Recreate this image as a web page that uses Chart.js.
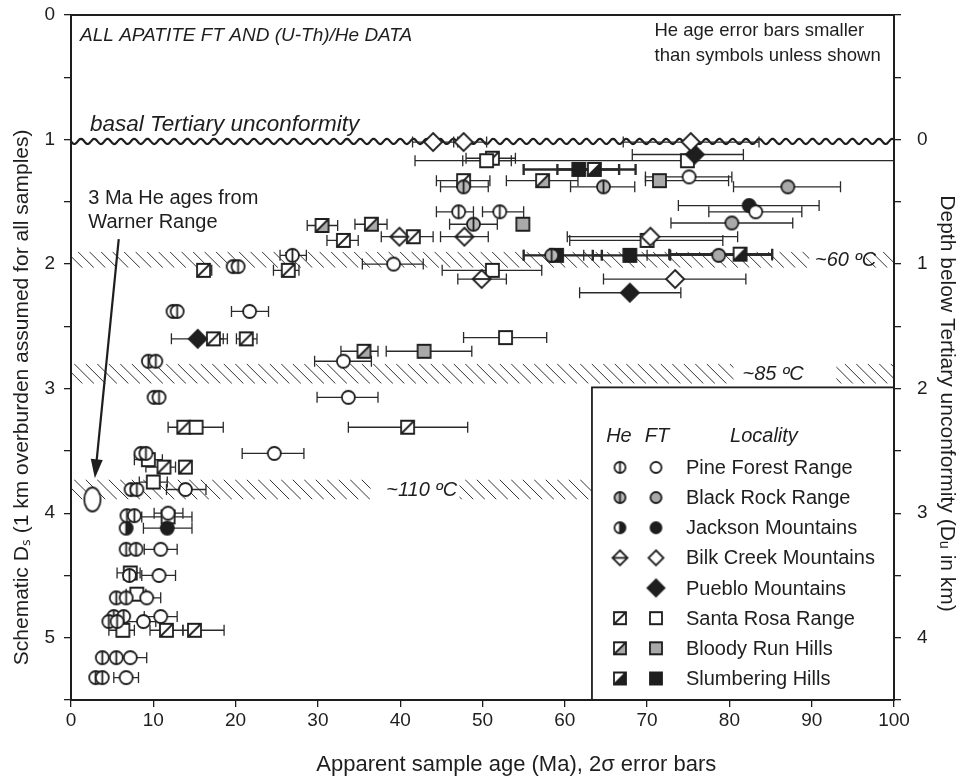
<!DOCTYPE html>
<html>
<head>
<meta charset="utf-8">
<script src="https://cdn.jsdelivr.net/npm/chart.js@4.4.1/dist/chart.umd.min.js"></script>
<style>
  body { margin: 0; background: #fff; }
  canvas { display: block; }
</style>
</head>
<body>
<canvas id="chart" width="966" height="777"></canvas>
<script>
Chart.defaults.font.family = '"Liberation Sans", Arial, Helvetica, sans-serif';
Chart.defaults.color = '#1e1e1e';

// rows are [age (Ma), schematic depth Ds (km), 2σ low, 2σ high]
const pineHe = [
  [47.1, 1.58, 44.4, 48.9], [52.1, 1.58, 50.0, 55.0], [26.9, 1.93, 25.4, 28.6],
  [19.7, 2.02], [20.3, 2.02], [12.4, 2.38], [12.9, 2.38], [9.4, 2.78], [10.3, 2.78],
  [10.1, 3.07], [10.7, 3.07], [8.5, 3.52], [9.1, 3.52], [7.3, 3.81], [8.0, 3.81],
  [6.8, 4.02], [7.7, 4.02], [6.7, 4.29], [7.9, 4.29], [7.1, 4.5], [5.5, 4.68], [6.7, 4.68],
  [5.2, 4.83], [6.4, 4.83], [4.6, 4.87], [5.6, 4.87], [3.8, 5.16], [5.5, 5.16], [3.0, 5.32], [3.8, 5.32]
];
const pineFt = [
  [75.1, 1.30, 69.8, 80.3], [83.2, 1.58, 77.5, 88.8], [39.2, 2.0, 35.4, 42.8],
  [21.7, 2.38, 19.5, 24.0], [33.1, 2.78, 29.6, 36.5], [33.7, 3.07, 29.9, 37.3],
  [24.7, 3.52, 20.8, 28.3], [13.9, 3.81, 11.6, 16.4], [11.8, 4.0, 10.1, 13.6],
  [10.9, 4.29, 8.9, 12.9], [10.7, 4.5, 8.6, 12.7], [9.2, 4.68, 7.1, 10.9],
  [10.9, 4.83, 8.9, 12.9], [8.8, 4.87, 6.9, 10.3], [7.2, 5.16, 5.6, 9.2], [6.7, 5.32, 5.2, 8.2]
];
const blackRockHe = [
  [47.7, 1.38, 44.9, 50.7], [64.7, 1.38, 60.7, 68.5], [48.9, 1.68, 46.0, 51.8], [58.4, 1.93, 55.0, 62.3]
];
const blackRockFt = [
  [87.1, 1.38, 80.5, 93.5], [80.3, 1.67, 72.9, 87.7], [78.7, 1.93, 70.0, 85.2]
];
const jacksonHe = [[6.7, 4.12]];
const jacksonFt = [[82.4, 1.53, 73.8, 90.9], [11.7, 4.12, 8.8, 14.7]];
const bilkHe = [[39.9, 1.78, 37.7, 42.0], [47.8, 1.78, 44.9, 50.7], [49.9, 2.12, 47.0, 52.9]];
const bilkFt = [
  [44.0, 1.02, 41.5, 47.0], [47.7, 1.02, 46.5, 50.5], [75.3, 1.02, 67.1, 83.6],
  [70.4, 1.78, 60.3, 81.0], [73.4, 2.12, 64.7, 82.0]
];
const puebloFt = [[75.8, 1.12, 68.2, 81.7], [67.9, 2.23, 61.8, 74.1], [15.4, 2.60, 12.2, 18.5]];
const santaRosaHe = [
  [51.2, 1.15, 48.0, 54.0], [47.7, 1.33, 44.4, 50.9], [33.1, 1.81, 31.1, 34.9], [41.6, 1.78, 39.5, 44.0],
  [16.1, 2.05, 15.4, 17.1], [26.4, 2.05, 24.6, 27.7], [17.3, 2.60, 16.6, 19.0], [21.3, 2.60, 20.1, 22.6],
  [40.9, 3.31, 33.7, 48.2], [13.7, 3.31, 11.8, 14.8], [11.3, 3.63, 9.1, 12.7], [13.9, 3.63],
  [11.6, 4.94, 9.6, 13.6], [15.0, 4.94, 13.6, 18.6]
];
const santaRosaFt = [
  [74.9, 1.17, 41.8, 110], [50.5, 1.17, 47.6, 53.5], [70.0, 1.81, 60.6, 79.2], [51.2, 2.05, 45.1, 57.2],
  [52.8, 2.59, 47.7, 57.8], [15.2, 3.31, 13.7, 18.5], [9.4, 3.57, 7.7, 11.1], [10.0, 3.75, 8.3, 11.7],
  [11.8, 4.03, 8.6, 14.7], [7.2, 4.48, 5.6, 8.4], [8.0, 4.65, 6.7, 9.1], [6.3, 4.94, 4.6, 7.7]
];
const bloodyRunHe = [[57.3, 1.33, 52.9, 61.6], [30.5, 1.69, 28.7, 32.4], [36.5, 1.68, 34.5, 38.4], [35.6, 2.70, 32.8, 37.3]];
const bloodyRunFt = [[71.5, 1.33, 69.8, 79.9], [54.9, 1.68], [42.9, 2.70, 38.3, 48.7]];
const slumberingHe = [[63.6, 1.24, 59.1, 66.6], [81.3, 1.92, 72.7, 85.2]];
const slumberingFt = [[61.7, 1.24, 55.0, 68.6], [67.9, 1.93, 63.4, 72.8], [59.0, 1.93, 55.0, 64.5]];
const warnerHe = [[2.6, 3.89]];

// isotherm bands: [top Ds, bottom Ds], label
const bandDepths = [[1.90, 2.03], [2.80, 2.96], [3.73, 3.89]];
const bandLabels = ['~60 ºC', '~85 ºC', '~110 ºC'];
const unconformityDs = 1.015;

const ink = '#1e1e1e';
const gray = '#a9a9a9';

function marker(kind, fill, size, accent) {
  const s = Math.ceil(size + 6);
  const c = document.createElement('canvas');
  c.width = s; c.height = s;
  const g = c.getContext('2d');
  const m = s / 2, r = size / 2;
  const outline = () => {
    g.beginPath();
    if (kind.startsWith('circle')) g.arc(m, m, r, 0, 2 * Math.PI);
    else if (kind.startsWith('diamond')) { g.moveTo(m, m - r); g.lineTo(m + r, m); g.lineTo(m, m + r); g.lineTo(m - r, m); g.closePath(); }
    else if (kind === 'ellipse') g.ellipse(m, m, r * 0.68, r, 0, 0, 2 * Math.PI);
    else g.rect(m - r, m - r, size, size);
  };
  outline(); g.fillStyle = fill; g.fill();
  g.save(); outline(); g.clip();
  if (kind === 'circleHalf') { g.fillStyle = ink; g.fillRect(m, 0, s, s); }
  if (kind === 'squareHe' && accent) {
    g.beginPath(); g.moveTo(m + r, m - r); g.lineTo(m + r, m + r); g.lineTo(m - r, m + r); g.closePath();
    g.fillStyle = accent; g.fill();
  }
  g.restore();
  g.strokeStyle = ink; g.lineWidth = 1.8;
  g.beginPath();
  if (kind === 'circleHe' || kind === 'circleHalf') { g.moveTo(m, m - r); g.lineTo(m, m + r); }
  if (kind === 'diamondHe') { g.moveTo(m - r, m); g.lineTo(m + r, m); }
  if (kind === 'squareHe') { g.moveTo(m - r, m + r); g.lineTo(m + r, m - r); }
  g.stroke();
  outline(); g.stroke();
  return c;
}

// kind, fill, plot size, legend size, accent
const localities = [
  { name: 'Pine Forest Range', he: pineHe, ft: pineFt, heMark: ['circleHe', '#fff', 13, 11], ftMark: ['circle', '#fff', 13, 11] },
  { name: 'Black Rock Range', he: blackRockHe, ft: blackRockFt, heMark: ['circleHe', '#b8b8b8', 13, 11], ftMark: ['circle', gray, 13, 11] },
  { name: 'Jackson Mountains', he: jacksonHe, ft: jacksonFt, heMark: ['circleHalf', '#fff', 13, 11], ftMark: ['circle', ink, 13, 11] },
  { name: 'Bilk Creek Mountains', he: bilkHe, ft: bilkFt, heMark: ['diamondHe', '#fff', 18, 15], ftMark: ['diamond', '#fff', 18, 15] },
  { name: 'Pueblo Mountains', he: null, ft: puebloFt, heMark: null, ftMark: ['diamond', ink, 18, 17] },
  { name: 'Santa Rosa Range', he: santaRosaHe, ft: santaRosaFt, heMark: ['squareHe', '#fff', 13, 12, '#fff'], ftMark: ['square', '#fff', 13, 12] },
  { name: 'Bloody Run Hills', he: bloodyRunHe, ft: bloodyRunFt, heMark: ['squareHe', '#fff', 13, 12, gray], ftMark: ['square', gray, 13, 12] },
  { name: 'Slumbering Hills', he: slumberingHe, ft: slumberingFt, heMark: ['squareHe', '#fff', 13, 12, ink], ftMark: ['square', ink, 13, 12], bold: true }
];

const toPts = rows => rows.map(r => ({ x: r[0], y: r[1], lo: r[2], hi: r[3] }));

const datasets = [];
localities.forEach(loc => {
  ['ft', 'he'].forEach(kind => {
    const mk = loc[kind + 'Mark'];
    if (!loc[kind]) return;
    datasets.push({
      label: loc.name + ' ' + kind,
      data: toPts(loc[kind]),
      pointStyle: marker(mk[0], mk[1], mk[2], mk[4]),
      pointRadius: 6,
      errWidth: loc.bold ? 2.4 : 1.3
    });
  });
});
datasets.push({ label: 'Warner Range He', data: toPts(warnerHe), pointStyle: marker('ellipse', '#fff', 24), pointRadius: 8 });

const legendIcons = localities.map(loc => ({
  he: loc.heMark ? marker(loc.heMark[0], loc.heMark[1], loc.heMark[3], loc.heMark[4]) : null,
  ft: marker(loc.ftMark[0], loc.ftMark[1], loc.ftMark[3], loc.ftMark[4])
}));

const notes = [
  { text: 'ALL APATITE FT AND (U-Th)/He DATA', x: 1.1, y: 0.165, italic: true, size: 19 },
  { text: 'He age error bars smaller', x: 70.9, y: 0.13, size: 18.5 },
  { text: 'than symbols unless shown', x: 70.9, y: 0.33, size: 18.5 },
  { text: 'basal Tertiary unconformity', x: 2.3, y: 0.885, italic: true, size: 22.5 },
  { text: '3 Ma He ages from', x: 2.1, y: 1.47, size: 20 },
  { text: 'Warner Range', x: 2.1, y: 1.665, size: 20 }
];
const axisTitles = {
  x: 'Apparent sample age (Ma), 2σ error bars',
  y: 'Schematic Dₛ (1 km overburden assumed for all samples)',
  y2: 'Depth below Tertiary unconformity (Dᵤ in km)'
};
// x ranges of hatch per band, and label x
const bandSpans = [[[0, 89.7], [96.6, 100]], [[0, 80.5], [93.0, 100]], [[0, 36.4], [47.2, 63.3]]];
const bandLabelX = [90.4, 81.6, 38.3];

const decor = {
  id: 'decor',
  beforeDatasetsDraw(chart) {
    const { ctx, chartArea: a, scales: { x, y } } = chart;
    ctx.save();
    // hatched isotherm bands
    ctx.strokeStyle = '#333';
    ctx.lineWidth = 1;
    bandDepths.forEach((b, i) => {
      const y0 = y.getPixelForValue(b[0]), y1 = y.getPixelForValue(b[1]), h = y1 - y0;
      bandSpans[i].forEach(sp => {
        const x0 = x.getPixelForValue(sp[0]), x1 = x.getPixelForValue(sp[1]);
        ctx.save();
        ctx.beginPath(); ctx.rect(x0, y0, x1 - x0, h); ctx.clip();
        ctx.beginPath();
        for (let t = a.left - h; t < x1; t += 11.5) {
          ctx.moveTo(t, y0); ctx.lineTo(t + h, y1);
        }
        ctx.stroke();
        ctx.restore();
      });
    });
    // wavy unconformity
    const wy = y.getPixelForValue(unconformityDs);
    ctx.beginPath();
    ctx.lineWidth = 2.2; ctx.strokeStyle = ink;
    for (let px = a.left; px <= a.right; px += 1) {
      const py = wy + 2.6 * Math.sin((px - a.left) * 2 * Math.PI / 13.3);
      px === a.left ? ctx.moveTo(px, py) : ctx.lineTo(px, py);
    }
    ctx.stroke();
    // error bars
    ctx.beginPath(); ctx.rect(a.left, a.top, a.width, a.height); ctx.clip();
    ctx.strokeStyle = '#2a2a2a';
    chart.data.datasets.forEach(ds => {
      ctx.lineWidth = ds.errWidth || 1.3;
      ds.data.forEach(p => {
        if (p.lo == null) return;
        const py = y.getPixelForValue(p.y);
        const x0 = x.getPixelForValue(p.lo), x1 = x.getPixelForValue(p.hi);
        ctx.beginPath();
        ctx.moveTo(x0, py); ctx.lineTo(x1, py);
        ctx.moveTo(x0, py - 5.5); ctx.lineTo(x0, py + 5.5);
        ctx.moveTo(x1, py - 5.5); ctx.lineTo(x1, py + 5.5);
        ctx.stroke();
      });
    });
    ctx.restore();
  },
  afterDatasetsDraw(chart) {
    const { ctx, chartArea: a, scales: { x, y } } = chart;
    const fam = Chart.defaults.font.family;
    ctx.save();
    ctx.fillStyle = ink;
    ctx.textBaseline = 'middle';
    notes.forEach(n => {
      ctx.font = (n.italic ? 'italic ' : '') + n.size + 'px ' + fam;
      ctx.fillText(n.text, x.getPixelForValue(n.x), y.getPixelForValue(n.y));
    });
    ctx.font = 'italic 20px ' + fam;
    bandDepths.forEach((b, i) => {
      ctx.fillText(bandLabels[i], x.getPixelForValue(bandLabelX[i]), y.getPixelForValue((b[0] + b[1]) / 2) + 1);
    });
    // arrow to the Warner Range ellipse
    const ax0 = x.getPixelForValue(5.8), ay0 = y.getPixelForValue(1.80);
    const ax1 = x.getPixelForValue(2.9), ay1 = y.getPixelForValue(3.72);
    const ang = Math.atan2(ay1 - ay0, ax1 - ax0);
    ctx.strokeStyle = ink; ctx.lineWidth = 2.2;
    ctx.beginPath(); ctx.moveTo(ax0, ay0);
    ctx.lineTo(ax1 - 14 * Math.cos(ang), ay1 - 14 * Math.sin(ang)); ctx.stroke();
    ctx.beginPath();
    ctx.moveTo(ax1, ay1);
    ctx.lineTo(ax1 - 19 * Math.cos(ang) + 6 * Math.sin(ang), ay1 - 19 * Math.sin(ang) - 6 * Math.cos(ang));
    ctx.lineTo(ax1 - 19 * Math.cos(ang) - 6 * Math.sin(ang), ay1 - 19 * Math.sin(ang) + 6 * Math.cos(ang));
    ctx.closePath(); ctx.fill();
    // legend box
    const L = x.getPixelForValue(63.3), T = y.getPixelForValue(2.99);
    ctx.fillStyle = '#fff';
    ctx.fillRect(L, T, a.right - L, a.bottom - T);
    ctx.strokeStyle = ink; ctx.lineWidth = 1.8;
    ctx.strokeRect(L, T, a.right - L, a.bottom - T);
    ctx.fillStyle = ink;
    ctx.font = 'italic 20px ' + fam;
    ctx.textAlign = 'center';
    ctx.fillText('He', L + 27, T + 49);
    ctx.fillText('FT', L + 65, T + 49);
    ctx.fillText('Locality', L + 172, T + 49);
    ctx.textAlign = 'left';
    ctx.font = '20px ' + fam;
    localities.forEach((loc, i) => {
      const ry = T + 80 + i * 30.15;
      const ic = legendIcons[i];
      if (ic.he) ctx.drawImage(ic.he, L + 28 - ic.he.width / 2, ry - ic.he.height / 2);
      ctx.drawImage(ic.ft, L + 64 - ic.ft.width / 2, ry - ic.ft.height / 2);
      ctx.fillText(loc.name, L + 94, ry + 1);
    });
    ctx.restore();
  },
  afterDraw(chart) {
    const { ctx, chartArea: a, scales: { x, y } } = chart;
    const fam = Chart.defaults.font.family;
    ctx.save();
    ctx.strokeStyle = ink; ctx.lineWidth = 2;
    ctx.strokeRect(a.left, a.top, a.width, a.height);
    // axis titles
    ctx.fillStyle = ink;
    ctx.textAlign = 'center';
    ctx.textBaseline = 'middle';
    ctx.font = '22px ' + fam;
    ctx.fillText(axisTitles.x, x.getPixelForValue(54.1), a.bottom + 65);
    ctx.font = '21px ' + fam;
    ctx.save();
    ctx.translate(22, y.getPixelForValue(3.07));
    ctx.rotate(-Math.PI / 2);
    ctx.fillText(axisTitles.y, 0, 0);
    ctx.restore();
    ctx.save();
    ctx.translate(a.right + 53, y.getPixelForValue(3.12));
    ctx.rotate(Math.PI / 2);
    ctx.fillText(axisTitles.y2, 0, 0);
    ctx.restore();
    ctx.restore();
  }
};

const tickGrid = { drawOnChartArea: false, drawTicks: true, tickLength: 7, color: ink, lineWidth: 1.3 };
const noEdgePad = s => { s.paddingTop = 0; s.paddingBottom = 0; };

new Chart(document.getElementById('chart'), {
  type: 'scatter',
  data: { datasets },
  options: {
    responsive: false,
    animation: false,
    events: [],
    layout: { padding: { top: 15 }, autoPadding: false },
    plugins: { legend: { display: false }, tooltip: { enabled: false } },
    scales: {
      x: {
        type: 'linear', position: 'bottom', min: 0, max: 100,
        ticks: { stepSize: 10, font: { size: 19 }, padding: 2, autoSkip: false, maxRotation: 0 },
        grid: tickGrid, border: { display: false },
        afterFit: s => { s.height = 77; s.paddingLeft = 0; s.paddingRight = 0; }
      },
      y: {
        type: 'linear', position: 'left', min: 0, max: 5.5, reverse: true,
        ticks: { stepSize: 0.5, font: { size: 19 }, padding: 9, autoSkip: false, callback: v => (v % 1 === 0 ? v : '') },
        grid: tickGrid, border: { display: false },
        afterFit: s => { s.width = 71; noEdgePad(s); }
      },
      y2: {
        type: 'linear', position: 'right', min: -1, max: 4.5, reverse: true,
        ticks: { stepSize: 0.5, font: { size: 19 }, padding: 16, autoSkip: false, callback: v => (v % 1 === 0 && v >= 0 ? v : '') },
        grid: tickGrid, border: { display: false },
        afterFit: s => { s.width = 72; noEdgePad(s); }
      }
    }
  },
  plugins: [decor]
});
</script>
</body>
</html>
